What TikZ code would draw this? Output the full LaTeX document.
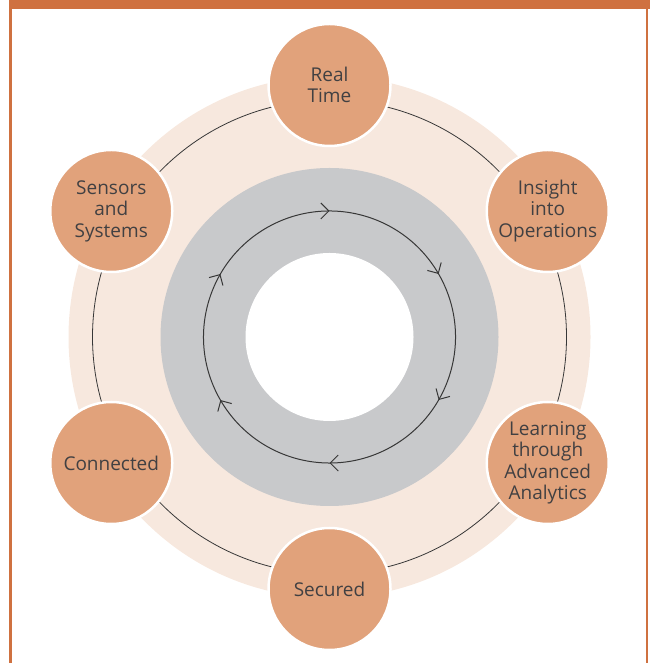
\documentclass[tikz,border=0pt]{standalone}
\usepackage{fontspec}
\setmainfont{Open Sans}
\usepackage{xcolor}
\definecolor{frameorange}{RGB}{207,113,64}
\definecolor{nodeorange}{RGB}{225,162,123}
\definecolor{ringbeige}{RGB}{247,232,222}
\definecolor{ringgray}{RGB}{200,201,203}
\definecolor{textgray}{RGB}{65,64,66}
\definecolor{linegray}{RGB}{55,55,55}
\usetikzlibrary{arrows.meta,positioning,calc,decorations.markings}

\begin{document}
\begin{tikzpicture}[x=1pt,y=1pt,
    stage/.style={circle, fill=nodeorange, draw=white, line width=2.5pt,
      minimum size=122pt, inner sep=0pt, align=center, text=textgray,
      font=\fontsize{19}{21.5}\selectfont}]
  \useasboundingbox (0,0) rectangle (650,663);

  % Frame
  \fill[frameorange] (9,654) rectangle (650,663);
  \draw[frameorange, line width=3pt] (10.5,654) -- (10.5,0);
  \draw[frameorange, line width=2.5pt] (647,654) -- (647,0);

  % Rings
  \coordinate (c) at (329.5,326);
  \fill[ringbeige] (c) circle[radius=261];
  \draw[linegray, line width=0.8pt] (c) circle[radius=237];
  \fill[ringgray] (c) circle[radius=169];
  \fill[white] (c) circle[radius=84];

  % Cycle arrows
  \draw[linegray, line width=1pt, postaction=decorate,
    decoration={markings, mark=between positions 1/12 and 1 step 1/6 with
      {\arrow{Straight Barb[length=8pt,width=16pt]}}}]
    ($(c)+(120:126)$) arc[start angle=120, end angle=-240, radius=126];

  % Stages
  \node[stage] (realtime) at ($(c)+(90:252)$) {Real\\Time};
  \node[stage] (insight) at ($(c)+(30:252)$) {Insight\\into\\Operations};
  \node[stage] (learning) at ($(c)+(-30:252)$) {Learning\\through\\Advanced\\Analytics};
  \node[stage] (secured) at ($(c)+(-90:252)$) {Secured};
  \node[stage] (connected) at ($(c)+(210:252)$) {Connected};
  \node[stage] (sensors) at ($(c)+(150:252)$) {Sensors\\and\\Systems};
\end{tikzpicture}
\end{document}
